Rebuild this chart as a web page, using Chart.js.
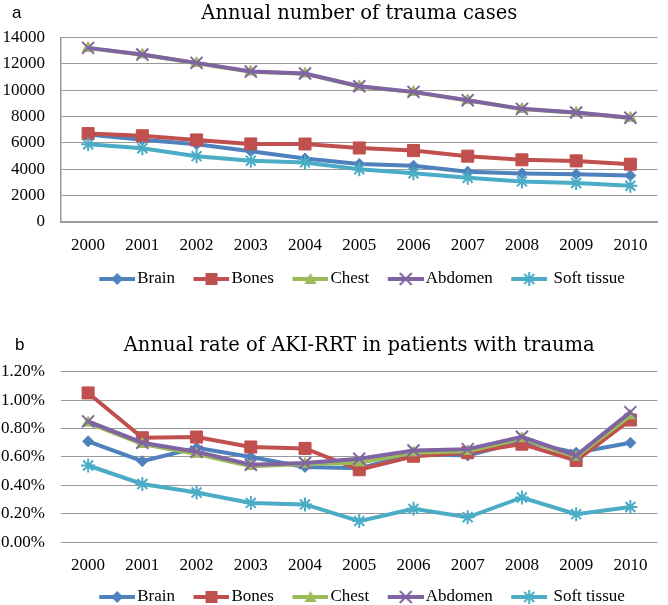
<!DOCTYPE html>
<html>
<head>
<meta charset="utf-8">
<title>Trauma cases and AKI-RRT</title>
<script src="https://cdn.jsdelivr.net/npm/chart.js@4.4.0/dist/chart.umd.min.js"></script>
<style>
  html, body { margin: 0; padding: 0; background: #fff; overflow: hidden; width: 668px; height: 605px; }
  .panel { position: absolute; left: 0; width: 668px; }
  #panelA { top: 0; height: 300px; }
  #panelB { top: 300px; height: 320px; }
  .tag { position: absolute; font-family: "Liberation Sans", sans-serif; font-size: 17px; color: #000; line-height: 1; }
</style>
</head>
<body>
<div class="panel" id="panelA"><canvas id="casesChart" width="668" height="300"></canvas></div>
<div class="panel" id="panelB"><canvas id="rateChart" width="668" height="320"></canvas></div>
<div class="tag" style="left:12px;top:4px;">a</div>
<div class="tag" style="left:15px;top:336px;">b</div>

<script>
// ----- DATA -----
const years = ['2000','2001','2002','2003','2004','2005','2006','2007','2008','2009','2010'];
const seriesNames = ['Brain', 'Bones', 'Chest', 'Abdomen', ' Soft tissue'];

// panel a: annual number of cases
const casesBrain   = [6650, 6250, 5900, 5370, 4820, 4400, 4270, 3820, 3690, 3630, 3530];
const casesBones   = [6710, 6550, 6230, 5930, 5920, 5620, 5420, 5000, 4720, 4640, 4390];
const casesChest   = [13200, 12700, 12060, 11400, 11250, 10290, 9860, 9230, 8570, 8290, 7900];
const casesAbdomen = [13220, 12710, 12080, 11420, 11270, 10310, 9880, 9250, 8590, 8310, 7920];
const casesSoft    = [5900, 5600, 5000, 4650, 4520, 4000, 3700, 3360, 3080, 2960, 2750];
const casesTicks   = [0, 2000, 4000, 6000, 8000, 10000, 12000, 14000];

// panel b: annual rate of AKI-RRT (percent)
const rateBrain   = [0.71, 0.57, 0.665, 0.60, 0.53, 0.52, 0.62, 0.61, 0.71, 0.63, 0.70];
const rateBones   = [1.05, 0.735, 0.74, 0.67, 0.66, 0.51, 0.605, 0.63, 0.69, 0.575, 0.86];
const rateChest   = [0.84, 0.69, 0.62, 0.535, 0.55, 0.56, 0.63, 0.64, 0.73, 0.60, 0.89];
const rateAbdomen = [0.85, 0.70, 0.637, 0.545, 0.557, 0.587, 0.645, 0.655, 0.742, 0.61, 0.915];
const rateSoft    = [0.54, 0.41, 0.35, 0.277, 0.266, 0.149, 0.235, 0.176, 0.315, 0.198, 0.248];
const rateTicks   = [0, 0.2, 0.4, 0.6, 0.8, 1.0, 1.2];

// ----- STYLE -----
const colors = ['#4F81BD', '#C0504D', '#9BBB59', '#8064A2', '#4BACC6'];
const markers = [
  {style: 'rectRot', radius: 5.5, border: 1},
  {style: 'rect', radius: 8.5, border: 1},
  {style: 'triangle', radius: 6.5, border: 1},
  {style: 'crossRot', radius: 8.5, border: 2},
  {style: 'star', radius: 7, border: 2}
];
const gridColor = '#999999';
const serif = "'Liberation Serif', serif";
const titleFont = "'DejaVu Serif', serif";

// legend icon: line + marker, like the office style legend
const BOX_W = 43;
function legendIcon(i) {
  const w = BOX_W + 13, h = 18;
  const c = document.createElement('canvas');
  c.width = w; c.height = h;
  const ctx = c.getContext('2d');
  const cy = h / 2, x0 = w - 36, cx = w - 18;
  ctx.strokeStyle = colors[i];
  ctx.fillStyle = colors[i];
  ctx.lineWidth = 4;
  ctx.beginPath(); ctx.moveTo(x0, cy); ctx.lineTo(w, cy); ctx.stroke();
  ctx.lineWidth = 2;
  ctx.beginPath();
  if (i === 0) {
    ctx.moveTo(cx, cy - 6); ctx.lineTo(cx + 6, cy); ctx.lineTo(cx, cy + 6); ctx.lineTo(cx - 6, cy); ctx.closePath(); ctx.fill();
  } else if (i === 1) {
    ctx.rect(cx - 6, cy - 6, 12, 12); ctx.fill();
  } else if (i === 2) {
    ctx.moveTo(cx, cy - 6); ctx.lineTo(cx + 6, cy + 5); ctx.lineTo(cx - 6, cy + 5); ctx.closePath(); ctx.fill();
  } else if (i === 3) {
    ctx.moveTo(cx - 6, cy - 6); ctx.lineTo(cx + 6, cy + 6); ctx.moveTo(cx + 6, cy - 6); ctx.lineTo(cx - 6, cy + 6); ctx.stroke();
  } else {
    ctx.moveTo(cx, cy - 7); ctx.lineTo(cx, cy + 7);
    ctx.moveTo(cx - 5, cy - 5); ctx.lineTo(cx + 5, cy + 5);
    ctx.moveTo(cx + 5, cy - 5); ctx.lineTo(cx - 5, cy + 5); ctx.stroke();
  }
  return c;
}
const legendIcons = colors.map((c, i) => legendIcon(i));

// nudge the legend a little to the left, as in the original figure
const legendShift = {
  id: 'legendShift',
  afterLayout(chart) {
    if (!chart.legend) return;
    chart.legend.left -= 4;
    chart.legend.right -= 4;
  }
};

function makeDatasets(seriesList) {
  return seriesList.map((values, i) => ({
    label: seriesNames[i],
    data: values,
    borderColor: colors[i],
    backgroundColor: colors[i],
    borderWidth: 4,
    tension: 0,
    pointStyle: markers[i].style,
    pointRadius: markers[i].radius,
    pointBorderWidth: markers[i].border,
    pointBorderColor: colors[i],
    pointBackgroundColor: colors[i],
    order: 4 - i
  }));
}

function makeChart(canvasId, opts) {
  const ctx = document.getElementById(canvasId).getContext('2d');
  return new Chart(ctx, {
    type: 'line',
    data: {labels: years, datasets: makeDatasets(opts.series)},
    plugins: [legendShift],
    options: {
      responsive: false,
      animation: false,
      events: [],
      layout: {padding: {left: 0, right: 0, top: 0, bottom: opts.bottomPad}},
      plugins: {
        title: {
          display: true,
          fullSize: false,
          text: opts.title,
          color: '#000',
          font: {family: titleFont, size: 19.5, weight: 'normal'},
          padding: {top: opts.titleTop, bottom: opts.titleBottom}
        },
        legend: {
          display: true,
          fullSize: false,
          position: 'bottom',
          labels: {
            usePointStyle: true,
            pointStyleWidth: BOX_W,
            padding: 5,
            color: '#000',
            font: {family: serif, size: 17},
            generateLabels: chart => chart.data.datasets.map((ds, i) => ({
              text: ds.label,
              pointStyle: legendIcons[i],
              fillStyle: ds.borderColor,
              strokeStyle: ds.borderColor,
              lineWidth: 0,
              hidden: !chart.isDatasetVisible(i),
              datasetIndex: i,
              fontColor: '#000'
            }))
          }
        },
        tooltip: {enabled: false}
      },
      scales: {
        x: {
          offset: true,
          grid: {display: false, drawTicks: false},
          border: {display: opts.axisLines, color: gridColor, width: 1.5},
          ticks: {color: '#000', font: {family: serif, size: 17}, padding: 13, maxRotation: 0},
          afterFit: s => { s.height = opts.xHeight; }
        },
        y: {
          min: opts.ticks[0],
          max: opts.ticks[opts.ticks.length - 1],
          grid: {color: gridColor, lineWidth: 1, drawTicks: false},
          border: {display: opts.axisLines, color: gridColor, width: 1.5},
          ticks: {
            stepSize: opts.ticks[1] - opts.ticks[0],
            color: '#000',
            font: {family: serif, size: 17},
            padding: 16,
            callback: opts.tickFormat
          },
          afterFit: s => { s.width = 61; }
        }
      }
    }
  });
}

document.addEventListener('DOMContentLoaded', () => {
  makeChart('casesChart', {
    series: [casesBrain, casesBones, casesChest, casesAbdomen, casesSoft],
    title: 'Annual number of trauma cases',
    ticks: casesTicks,
    tickFormat: v => String(v),
    axisLines: true,
    titleTop: 2, titleBottom: 12.2,
    bottomPad: 2.5,
    xHeight: 43.5
  });
  makeChart('rateChart', {
    series: [rateBrain, rateBones, rateChest, rateAbdomen, rateSoft],
    title: 'Annual rate of AKI-RRT in patients with trauma',
    ticks: rateTicks,
    tickFormat: v => v.toFixed(2) + '%',
    axisLines: false,
    titleTop: 34, titleBottom: 14.2,
    bottomPad: 4.5,
    xHeight: 41.2
  });
});
</script>
</body>
</html>
